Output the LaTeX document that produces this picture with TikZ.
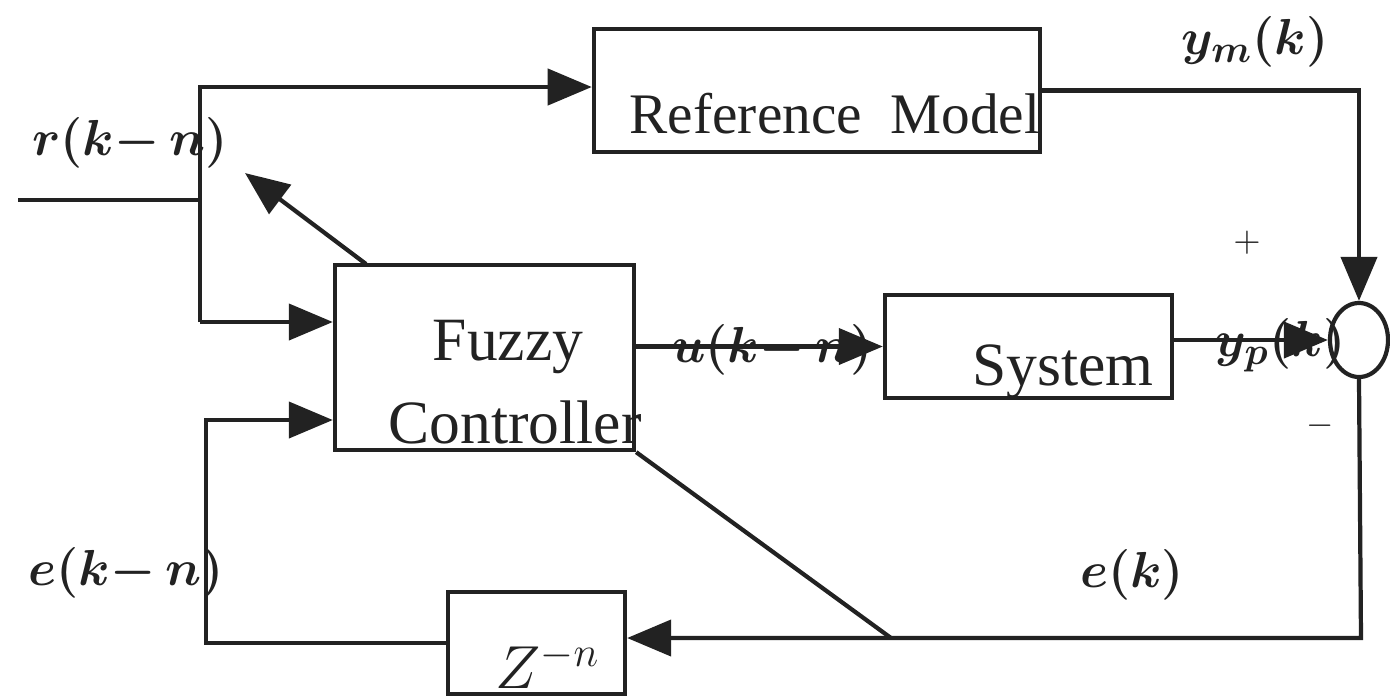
\documentclass[tikz,border=0pt]{standalone}
\usepackage{fontspec}
\setmainfont{Liberation Serif}
\usetikzlibrary{arrows.meta,shapes.geometric}
\definecolor{ink}{HTML}{222222}
\tikzset{
  blk/.style={draw=ink, line width=1.2pt, rectangle, inner sep=0pt},
  wire/.style={draw=ink, line width=1.2pt},
  arr/.style={wire, -{Triangle[length=0.44cm,width=0.36cm]}},
  lbl/.style={inner sep=0pt, text=ink, font=\fontsize{15}{18}\selectfont\boldmath},
  btxt/.style={inner sep=0pt, anchor=base, text=ink, font=\fontsize{17.5}{21}\selectfont},
  sgn/.style={inner sep=0pt, text=ink, font=\fontsize{10}{12}\selectfont}
}
\begin{document}
\begin{tikzpicture}[x=0.01cm,y=-0.01cm]
\useasboundingbox (0,0) rectangle (1390,696);
% blocks
\node[blk, minimum width=4.46cm, minimum height=1.23cm] (refm) at (817,90.5) {};
\node[blk, minimum width=2.99cm, minimum height=1.85cm] (fc) at (484.5,357.5) {};
\node[blk, minimum width=2.87cm, minimum height=1.03cm] (sys) at (1028.5,346.5) {};
\node[blk, minimum width=1.77cm, minimum height=1.02cm] (zb) at (536.5,643) {};
\node[draw=ink, line width=1.2pt, ellipse, inner sep=0pt, minimum width=0.58cm, minimum height=0.74cm] (sum) at (1359,340) {};
% block texts
\node[btxt, font=\fontsize{16.3}{20}\selectfont] (treft) at (835,133) {Reference\ \ Model};
\node[btxt] (tfz) at (508,360) {Fuzzy};
\node[btxt] (tct) at (515,443) {Controller};
\node[btxt] (tsys) at (1063,385) {System};
\node[inner sep=0pt, text=ink, font=\fontsize{17}{20}\selectfont] (tz) at (548,665) {$Z^{-n}$};
% coordinates
\coordinate (in) at (18,200);
\coordinate (jt) at (200,87);
\coordinate (jb) at (200,322);
\coordinate (fbl) at (206,420);
\coordinate (ecorner) at (1361,638);
\coordinate (etap) at (891,638);
\coordinate (dstart) at (366,264);
\coordinate (dtip) at (245,173);
% connectors
\draw[wire] (in) -- (in -| jt);
\draw[arr] (jb) -- (jt) -- (jt -| refm.west);
\draw[arr] (jb) -- (jb -| fc.west);
\draw[arr] (dstart) -- (dtip);
\draw[arr] (fc.east |- sys.west) -- (sys.west);
\draw[arr] (sys.east |- sum.west) -- (sum.west);
\draw[arr] (refm.east) -- (refm.east -| sum.north) -- (sum.north);
\draw[arr] (sum.south) -- (ecorner) -- (ecorner -| zb.east);
\draw[wire] (fc.south east) -- (etap);
\draw[arr] (zb.west) -| (fbl) -- (fbl -| fc.west);
% labels
\node[lbl] (lr) at (130,143) {$r(k{-}\,n)$};
\node[lbl] (lym) at (1255,42) {$y_m(k)$};
\node[lbl] (lu) at (772,350) {$u(k{-}\,n)$};
\node[lbl] (lyp) at (1280,345) {$y_p(k)$};
\node[lbl] (le1) at (126,573) {$e(k{-}\,n)$};
\node[lbl] (le) at (1132,575) {$e(k)$};
\node[sgn] (plus) at (1247,243) {$+$};
\node[sgn] (minus) at (1320,426) {$-$};
\end{tikzpicture}
\end{document}
